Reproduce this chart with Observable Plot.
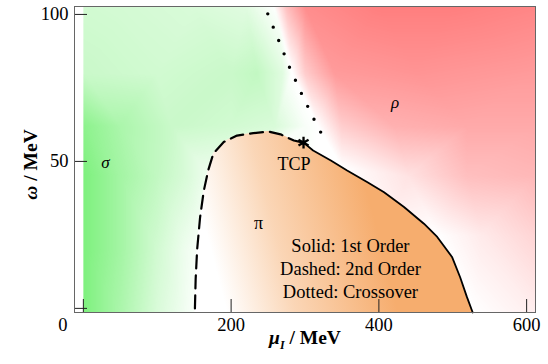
<!DOCTYPE html>
<html>
<head>
<meta charset="utf-8">
<script src="https://cdn.jsdelivr.net/npm/d3@7"></script>
<script src="https://cdn.jsdelivr.net/npm/@observablehq/plot@0.6"></script>
<style>
  html, body { margin: 0; padding: 0; background: #fff; }
</style>
</head>
<body>
<div id="chart"></div>
<script>
// ---- axes ----
const xDomain = [-12, 612];
const yDomain = [-1.4, 102.7];
const xTickMarks = [0, 200, 400, 600];
const xTickLabels = [200, 400, 600];
const yTickMarks = [0, 50, 100];
const yTickLabels = [50, 100];
const originLabel = "0";
const xLabel = "μI / MeV";
const yLabel = "ω / MeV";

// ---- phase boundaries (μ_I, ω) ----
const dashed = [[151,0],[152,10],[154,20],[158,31],[163,40],[169,47],[176,52.7],[190,56.6],[208,58.8],[230,59.6],[250,60.2],[267,59.2],[285,57.1],[298,56.4]];
const solid = [[298,56.4],[311,53.7],[335,50.3],[357,46.9],[384,43],[407,39.5],[434,34.5],[461,28.8],[479,24.3],[499,17.5],[510,10.6],[519,4],[527,-1.4]];
const dotted = [[249.6,100.2],[264.3,91.2],[278.9,82.1],[295,73.2],[311.8,64.5],[329.9,55.8]];
const tcp = [[298,56.4]];

// ---- background phase intensity samples [μ_I, ω, strength] ----
const greenPts = [
  [0,102.7,0.3],[60,102.7,0.28],[150,102.7,0.25],[220,102.7,0.2],[250,102.7,0.05],[262,102.7,0],
  [0,80,0.35],[100,80,0.3],[200,80,0.35],[235,80,0.4],[270,80,0.2],[282,80,0],
  [0,62,0.75],[50,62,0.55],[120,62,0.35],[200,62,0.3],[260,62,0.25],[300,62,0.05],[318,62,0],
  [0,45,0.85],[50,45,0.6],[100,45,0.4],[140,45,0.25],[170,45,0.1],[200,45,0],
  [0,20,0.85],[50,20,0.6],[100,20,0.3],[140,20,0.1],[165,20,0],
  [0,-1.4,0.85],[50,-1.4,0.55],[100,-1.4,0.25],[140,-1.4,0.08],[165,-1.4,0],
  [612,102.7,0],[612,-1.4,0],[400,50,0],[300,20,0]
];
const redPts = [
  [258,102.7,0],[275,102.7,0.45],[300,102.7,0.8],[400,102.7,0.9],[500,102.7,0.9],[612,102.7,0.85],
  [283,80,0],[300,80,0.35],[340,80,0.7],[450,80,0.75],[612,80,0.7],
  [318,62,0],[350,62,0.35],[420,62,0.55],[520,62,0.6],[612,62,0.6],
  [350,48,0],[440,45,0.2],[520,45,0.45],[612,45,0.5],
  [480,25,0],[540,25,0.15],[612,25,0.3],
  [530,-1.4,0],[612,-1.4,0.12],
  [0,102.7,0],[0,-1.4,0],[200,50,0],[400,20,0]
];

// ---- annotations ----
const italicLabels = [{text: "σ", x: 30, y: 49.5}, {text: "ρ", x: 422, y: 70}];
const plainLabels = [{text: "π", x: 237, y: 28.8}, {text: "TCP", x: 285, y: 49.1}];
const legendLines = [
  {text: "Solid: 1st Order", y: 21.1},
  {text: "Dashed: 2nd Order", y: 13.3},
  {text: "Dotted: Crossover", y: 5.4}
];
const legendX = 361.5;

const greenColor = "#66ee66";
const redColor = "#ff7070";
const orangeColor = "#f6ad6e";

const piBoundary = dashed.concat(solid.slice(1));

const chart = Plot.plot({
  width: 548,
  height: 364,
  marginLeft: 74,
  marginRight: 13,
  marginTop: 6,
  marginBottom: 52,
  style: {fontFamily: '"Liberation Serif", "Times New Roman", serif', fontSize: "18px", background: "white", color: "black"},
  x: {domain: xDomain, label: null},
  y: {domain: yDomain, label: null},
  opacity: {domain: [0, 1], range: [0, 1]},
  marks: [
    Plot.raster(greenPts, {x: d => d[0], y: d => d[1], fill: greenColor, fillOpacity: d => d[2],
      interpolate: "barycentric", x1: 0, x2: xDomain[1], y1: yDomain[0], y2: yDomain[1], pixelSize: 1}),
    Plot.raster(redPts, {x: d => d[0], y: d => d[1], fill: redColor, fillOpacity: d => d[2],
      interpolate: "barycentric", x1: 0, x2: xDomain[1], y1: yDomain[0], y2: yDomain[1], pixelSize: 1}),
    Plot.areaY(piBoundary, {x: d => d[0], y1: yDomain[0], y2: d => d[1], fill: "white"}),
    Plot.areaY(piBoundary, {x: d => d[0], y1: yDomain[0], y2: d => d[1], fill: "url(#pi-grad)"}),
    Plot.line(dashed, {x: d => d[0], y: d => d[1], stroke: "black", strokeWidth: 2.2, strokeDasharray: "13,7"}),
    Plot.line(solid, {x: d => d[0], y: d => d[1], stroke: "black", strokeWidth: 1.8}),
    Plot.line(dotted, {x: d => d[0], y: d => d[1], stroke: "black", strokeWidth: 3.4, strokeDasharray: "0,14.4", strokeLinecap: "round"}),
    Plot.dot(tcp, {x: d => d[0], y: d => d[1], symbol: "asterisk", r: 5.5, stroke: "black", strokeWidth: 2.3}),
    Plot.text(italicLabels, {x: "x", y: "y", text: "text", fontStyle: "italic", fontSize: 17}),
    Plot.text(plainLabels, {x: "x", y: "y", text: "text", fontSize: 18}),
    Plot.text(legendLines, {x: legendX, y: "y", text: "text", fontSize: 18.5}),
    Plot.axisX(xTickMarks, {tickSize: -13, tickFormat: () => "", stroke: "#222"}),
    Plot.axisY(yTickMarks, {tickSize: -13, tickFormat: () => "", stroke: "#222"}),
    Plot.axisX(xTickLabels, {tickSize: 0, tickPadding: 5, fontSize: 18.5}),
    Plot.axisY(yTickLabels, {tickSize: 0, tickPadding: 6, fontSize: 18.5}),
    Plot.text([originLabel], {frameAnchor: "bottom-left", dx: -7, dy: 5, textAnchor: "end", lineAnchor: "top", text: d => d, fontSize: 18.5}),
    Plot.text([xLabel], {frameAnchor: "bottom", dy: 25, textAnchor: "middle", lineAnchor: "middle", text: d => d, fontSize: 19.5, fontWeight: "bold"}),
    Plot.text([yLabel], {frameAnchor: "left", dx: -44, dy: 5, rotate: -90, textAnchor: "middle", lineAnchor: "middle", text: d => d, fontSize: 19.5, fontWeight: "bold"}),
    Plot.frame({stroke: "#666", strokeWidth: 1})
  ]
});

// gradient for the pion-condensed region
const svg = d3.select(chart);
const defs = svg.insert("defs", ":first-child");
const grad = defs.append("linearGradient").attr("id", "pi-grad")
  .attr("x1", 0.05).attr("y1", 0.6).attr("x2", 0.65).attr("y2", 0.5);
grad.append("stop").attr("offset", 0).attr("stop-color", orangeColor).attr("stop-opacity", 0);
grad.append("stop").attr("offset", 0.4).attr("stop-color", orangeColor).attr("stop-opacity", 0.5);
grad.append("stop").attr("offset", 1).attr("stop-color", orangeColor).attr("stop-opacity", 1);

// subscript in x label, italic Greek letters
svg.selectAll("text").filter(function() { return this.textContent === xLabel; }).each(function() {
  const t = d3.select(this);
  t.text(null);
  t.append("tspan").attr("font-style", "italic").text("μ");
  t.append("tspan").attr("font-style", "italic").attr("font-size", 12).attr("dy", 5).text("I");
  t.append("tspan").attr("dy", -5).text(" / MeV");
});
svg.selectAll("text").filter(function() { return this.textContent === yLabel; }).each(function() {
  const t = d3.select(this);
  t.text(null);
  t.append("tspan").attr("font-style", "italic").text("ω");
  t.append("tspan").text(" / MeV");
});

document.getElementById("chart").appendChild(chart);
</script>
</body>
</html>
